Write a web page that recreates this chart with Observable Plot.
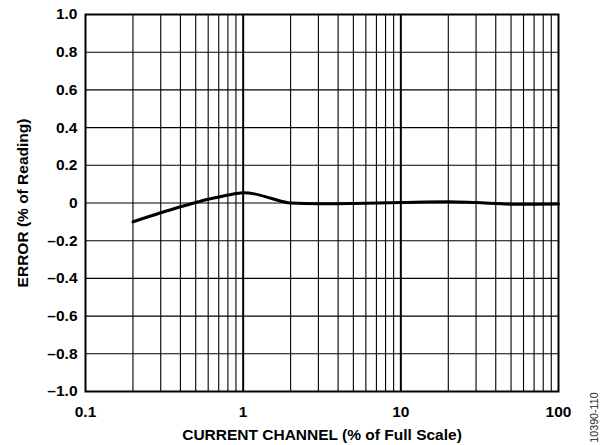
<!DOCTYPE html>
<html>
<head>
<meta charset="utf-8">
<script src="https://cdn.jsdelivr.net/npm/d3@7"></script>
<script src="https://cdn.jsdelivr.net/npm/@observablehq/plot@0.6"></script>
<style>
  html, body { margin: 0; padding: 0; background: #fff; }
</style>
</head>
<body>
<div id="chart"></div>
<script>
// Data
const current = [0.2, 0.3, 0.4, 0.5, 0.6, 0.7, 0.8, 0.9, 1.0, 1.2, 1.5, 2, 3, 5, 10, 20, 30, 50, 70, 100];
const errorPct = [-0.1, -0.052, -0.02, 0.003, 0.02, 0.032, 0.042, 0.05, 0.054, 0.047, 0.025, 0.0, -0.004, -0.002, 0.003, 0.007, 0.002, -0.006, -0.006, -0.005];

const xTicks = [0.1, 1, 10, 100];
const xTickLabels = ["0.1", "1", "10", "100"];
const yTicks = [-1, -0.8, -0.6, -0.4, -0.2, 0, 0.2, 0.4, 0.6, 0.8, 1];
const yTickLabels = ["\u20131.0", "\u20130.8", "\u20130.6", "\u20130.4", "\u20130.2", "0", "0.2", "0.4", "0.6", "0.8", "1.0"];
const xGrid = [0.2, 0.3, 0.4, 0.5, 0.6, 0.7, 0.8, 0.9, 1, 2, 3, 4, 5, 6, 7, 8, 9, 10, 20, 30, 40, 50, 60, 70, 80, 90];
const xMajorGrid = [1, 10];
const xTitle = "CURRENT CHANNEL (% of Full Scale)";
const yTitle = "ERROR (% of Reading)";
const figCode = "10390-110";

const table = current.map((c, i) => ({current: c, error: errorPct[i]}));

const chart = Plot.plot({
  width: 611,
  height: 445,
  marginLeft: 85,
  marginRight: 53,
  marginTop: 14,
  marginBottom: 54,
  style: {fontFamily: "'Liberation Sans', Arial, sans-serif", fontSize: "15.5px", fontWeight: "bold", color: "#000", background: "#fff"},
  x: {type: "log", domain: [0.1, 100]},
  y: {domain: [-1, 1]},
  marks: [
    Plot.ruleX(xGrid, {x: d => d, stroke: "#000", strokeWidth: d => xMajorGrid.includes(d) ? 2 : 1.1, strokeOpacity: 1}),
    Plot.ruleY(yTicks, {y: d => d, stroke: "#000", strokeWidth: 1.1}),
    Plot.frame({stroke: "#000", strokeWidth: 2}),
    Plot.line(table, {x: "current", y: "error", stroke: "#000", strokeWidth: 3, curve: "monotone-x"}),
    Plot.axisX({ticks: xTicks, tickFormat: d => xTickLabels[xTicks.indexOf(d)], tickSize: 0, tickPadding: 14, fontSize: 15.5, label: xTitle, labelAnchor: "center", labelOffset: 48.5, labelArrow: "none"}),
    Plot.axisY({ticks: yTicks, tickFormat: d => yTickLabels[yTicks.indexOf(d)], tickSize: 0, tickPadding: 8, fontSize: 15.5, label: yTitle, labelAnchor: "center", labelOffset: 69, labelArrow: "none"}),
    Plot.text([figCode], {text: d => d, frameAnchor: "bottom-right", dx: 39, dy: 26, rotate: -90, fontSize: 10.7, fontWeight: "normal", fill: "#222", textAnchor: "middle"})
  ]
});
document.getElementById("chart").appendChild(chart);
</script>
</body>
</html>
